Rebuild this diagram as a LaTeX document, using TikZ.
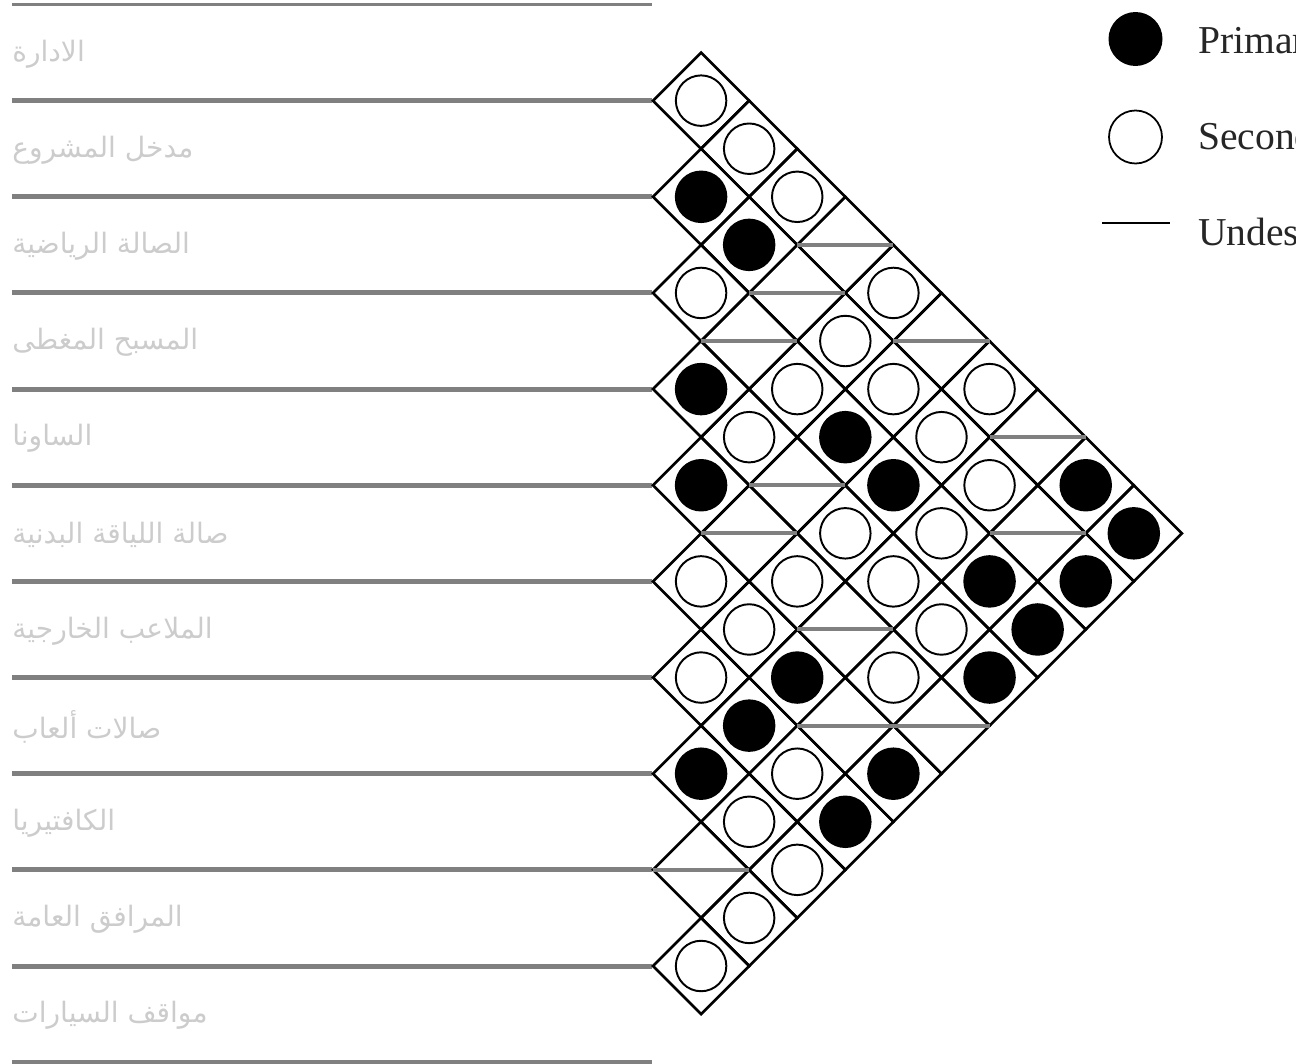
\documentclass[tikz,border=0pt]{standalone}
\usepackage{fontspec}
\setmainfont{Liberation Serif}
\newfontfamily\arabicfont[Script=Arabic]{DejaVu Sans}
\TeXXeTstate=1
\usepackage{xcolor}
\definecolor{zeilengrau}{gray}{0.50}
\definecolor{textgrau}{gray}{0.80}
\definecolor{legendgrau}{gray}{0.15}

\begin{document}
\begin{tikzpicture}[x=0.02cm,y=-0.02cm,
  zeile/.style={zeilengrau,line width=2.85pt},
  gitter/.style={draw=black,line width=1.5pt,line join=miter},
  prim/.style={circle,fill=black,minimum size=1.05cm,inner sep=0pt},
  sek/.style={circle,draw=black,fill=white,line width=1.1pt,minimum size=1.01cm,inner sep=0pt},
  unerw/.style={zeilengrau,line width=2.3pt},
  beschr/.style={textgrau,inner sep=0pt,anchor=west,font=\arabicfont\fontsize{16}{18}\selectfont},
  legende/.style={legendgrau,inner sep=0pt,anchor=base west,font=\fontsize{22.5}{26}\selectfont}]
  \useasboundingbox (0,0) rectangle (1312,1064);
  \clip (0,0) rectangle (1312,1064);
  % Zeilen (Raeume)
  \draw[zeile,line width=1.7pt] (12,4.5) -- (652,4.5);
  \foreach \k in {1,...,11} \draw[zeile] (12,{4.5+96.15*\k}) -- (652,{4.5+96.15*\k});
  \foreach \k/\txt in {1/الادارة,2/مدخل المشروع,3/الصالة الرياضية,4/المسبح المغطى,
      5/الساونا,6/صالة اللياقة البدنية,7/الملاعب الخارجية,8/صالات ألعاب,
      9/الكافتيريا,10/المرافق العامة,11/مواقف السيارات}
    \node[beschr] (r-\k) at (12,{6+96.15*(\k-0.5)}) {\beginR\txt\endR};
  % Matrix: Rauten
  \foreach \i in {1,...,10}{
    \pgfmathtruncatemacro\ja{\i+1}
    \foreach \j in {\ja,...,11}{
      \coordinate (z-\i-\j) at ({653+48.08*(\j-\i)},{4.5+48.075*(\i+\j-1)});
      \draw[gitter] (z-\i-\j) +(-48.08,0) -- +(0,-48.08) -- +(48.08,0) -- +(0,48.08) -- cycle;
    }
  }
  % primaer
  \foreach \i/\j in {1/10,1/11,2/3,2/4,2/11,3/7,3/8,3/10,3/11,4/5,4/11,5/6,6/9,6/11,7/9,7/11,8/9}
    \node[prim] (k-\i-\j) at (z-\i-\j) {};
  % sekundaer
  \foreach \i/\j in {1/2,1/3,1/4,1/6,1/8,2/6,2/7,2/8,2/9,3/4,3/6,3/9,4/6,4/8,4/9,4/10,
      5/8,5/10,6/7,6/8,7/8,7/10,8/10,8/11,9/11,10/11}
    \node[sek] (k-\i-\j) at (z-\i-\j) {};
  % unerwuenscht
  \foreach \i/\j in {1/5,1/7,1/9,2/5,2/10,3/5,4/7,5/7,5/9,5/11,6/10,9/10}
    \draw[unerw] (z-\i-\j) +(-48.08,0) -- +(48.08,0);
  % Legende (rechts abgeschnitten wie im Original)
  \node[prim,minimum size=1.08cm] (lp) at (1135.5,39) {};
  \node[sek,minimum size=1.06cm,line width=1.0pt] (ls) at (1135.5,137) {};
  \coordinate (lu1) at (1102,223);
  \coordinate (lu2) at (1170,223);
  \draw[black,line width=1.7pt] (lu1) -- (lu2);
  \begin{scope}
    \clip (1150,0) rectangle (1295,300);
    \node[legende] (tp) at (1198,54) {Primary};
    \node[legende] (ts) at (1198,150) {Secondary};
    \node[legende] (tu) at (1198,246) {Undesirable};
  \end{scope}
\end{tikzpicture}
\end{document}
